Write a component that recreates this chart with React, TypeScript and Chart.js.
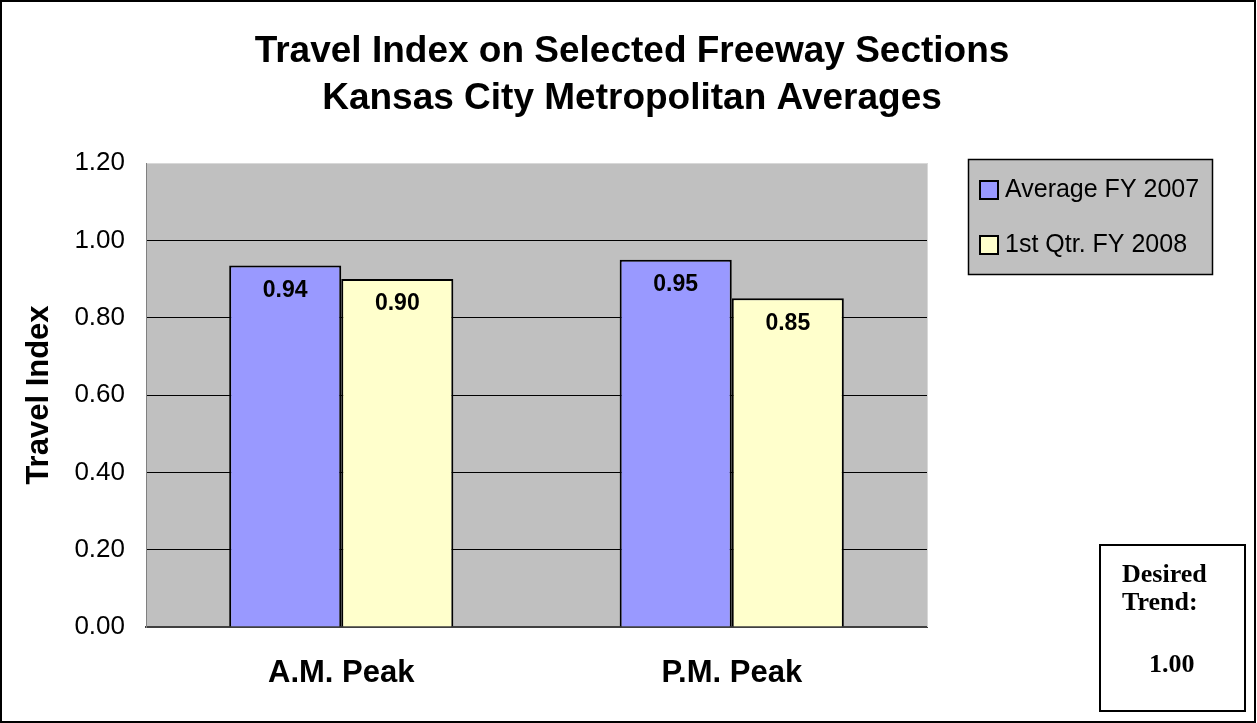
import React, { useEffect, useRef } from "react";
import { Chart, registerables } from "chart.js";

Chart.register(...registerables);

const categories = ["A.M. Peak", "P.M. Peak"];
const seriesNames = ["Average FY 2007", "1st Qtr. FY 2008"];
const avgFY2007 = [0.935, 0.95];
const q1FY2008 = [0.9, 0.85];
const seriesColors = ["#9999FF", "#FFFFCC"];
const titleLines = ["Travel Index on Selected Freeway Sections", "Kansas City Metropolitan Averages"];
const yAxisTitle = "Travel Index";
const trendLines = ["Desired", "Trend:"];
const trendValue = "1.00";

const W = 1257;
const H = 723;

const decorPlugin = {
  id: "decor",
  beforeDraw(chart: any) {
    const { ctx, chartArea } = chart;
    ctx.save();
    ctx.fillStyle = "#ffffff";
    ctx.fillRect(0, 0, W, H);
    ctx.fillStyle = "#C0C0C0";
    ctx.fillRect(chartArea.left, chartArea.top, chartArea.right - chartArea.left, chartArea.bottom - chartArea.top);
    ctx.restore();
  },
  afterDraw(chart: any) {
    const { ctx, chartArea } = chart;
    ctx.save();
    ctx.strokeStyle = "#D8D8D8";
    ctx.lineWidth = 1;
    ctx.beginPath();
    ctx.moveTo(chartArea.right + 0.5, chartArea.top);
    ctx.lineTo(chartArea.right + 0.5, chartArea.bottom);
    ctx.stroke();

    ctx.fillStyle = "#000";
    ctx.textAlign = "center";
    ctx.textBaseline = "alphabetic";
    ctx.font = "bold 37px 'Liberation Sans', Arial, sans-serif";
    ctx.fillText(titleLines[0], 632, 62);
    ctx.fillText(titleLines[1], 632, 109);

    ctx.font = "bold 23px 'Liberation Sans', Arial, sans-serif";
    ctx.textBaseline = "middle";
    chart.data.datasets.forEach((ds: any, di: number) => {
      const meta = chart.getDatasetMeta(di);
      meta.data.forEach((bar: any, i: number) => {
        ctx.fillText(Number(ds.data[i]).toFixed(2), bar.x, bar.y + 25);
      });
    });

    ctx.fillStyle = "#C0C0C0";
    ctx.fillRect(968, 159, 245, 115);
    ctx.strokeStyle = "#000";
    ctx.lineWidth = 1.5;
    ctx.strokeRect(968.5, 159.5, 244, 115);
    ctx.font = "25px 'Liberation Sans', Arial, sans-serif";
    ctx.textAlign = "left";
    const ys = [190, 245];
    chart.data.datasets.forEach((ds: any, di: number) => {
      const y = ys[di];
      ctx.fillStyle = ds.backgroundColor;
      ctx.fillRect(980, y - 9, 18, 18);
      ctx.strokeStyle = "#000";
      ctx.lineWidth = 2;
      ctx.strokeRect(980, y - 9, 18, 18);
      ctx.fillStyle = "#000";
      ctx.fillText(ds.label, 1005, y);
    });

    ctx.fillStyle = "#fff";
    ctx.fillRect(1100, 545, 145, 166);
    ctx.strokeStyle = "#000";
    ctx.lineWidth = 2;
    ctx.strokeRect(1100, 545, 145, 166);
    ctx.fillStyle = "#000";
    ctx.font = "bold 26px 'Liberation Serif', 'Times New Roman', serif";
    ctx.textBaseline = "alphabetic";
    ctx.fillText(trendLines[0], 1122, 582);
    ctx.fillText(trendLines[1], 1122, 610);
    ctx.fillText(trendValue, 1149, 672);

    ctx.strokeStyle = "#000";
    ctx.lineWidth = 2;
    ctx.strokeRect(1, 1, W - 3, H - 2);
    ctx.restore();
  },
};

export default function App() {
  const ref = useRef<HTMLCanvasElement | null>(null);
  useEffect(() => {
    if (!ref.current) return;
    const chart = new Chart(ref.current, {
      type: "bar",
      data: {
        labels: categories,
        datasets: [
          {
            label: seriesNames[0],
            data: avgFY2007,
            backgroundColor: seriesColors[0],
            borderColor: "#000",
            borderWidth: 2,
            categoryPercentage: 0.574,
            barPercentage: 1,
          },
          {
            label: seriesNames[1],
            data: q1FY2008,
            backgroundColor: seriesColors[1],
            borderColor: "#000",
            borderWidth: 2,
            categoryPercentage: 0.574,
            barPercentage: 1,
          },
        ],
      },
      options: {
        responsive: false,
        animation: false,
        layout: { padding: { top: 163, right: 330, bottom: 0, left: 0 } },
        plugins: {
          legend: { display: false },
          title: { display: false },
          tooltip: { enabled: false },
        },
        scales: {
          x: {
            grid: { display: false, drawTicks: false },
            border: { display: true, color: "#404040", width: 2 },
            ticks: {
              color: "#000",
              padding: 28,
              font: { family: "'Liberation Sans', Arial, sans-serif", size: 31, weight: "bold" },
            },
            afterFit: (s: any) => {
              s.height = 96;
            },
          },
          y: {
            min: 0,
            max: 1.2,
            ticks: {
              stepSize: 0.2,
              color: "#000",
              padding: 21,
              font: { family: "'Liberation Sans', Arial, sans-serif", size: 26 },
              callback: (v: any) => Number(v).toFixed(2),
            },
            grid: {
              drawTicks: false,
              color: (c: any) => (c.tick && Math.abs(c.tick.value - 1.2) < 1e-6 ? "#D8D8D8" : "#000"),
              lineWidth: 1,
            },
            border: { display: true, color: "#808080", width: 1 },
            title: {
              display: true,
              text: yAxisTitle,
              color: "#000",
              padding: { top: 21, bottom: 0 },
              font: { family: "'Liberation Sans', Arial, sans-serif", size: 31, weight: "bold" },
            },
            afterFit: (s: any) => {
              s.width = 146;
            },
          },
        },
      },
      plugins: [decorPlugin],
    });
    return () => chart.destroy();
  }, []);
  return (
    <div style={{ position: "absolute", left: 0, top: 0, width: W, height: H }}>
      <canvas ref={ref} width={W} height={H} />
    </div>
  );
}
